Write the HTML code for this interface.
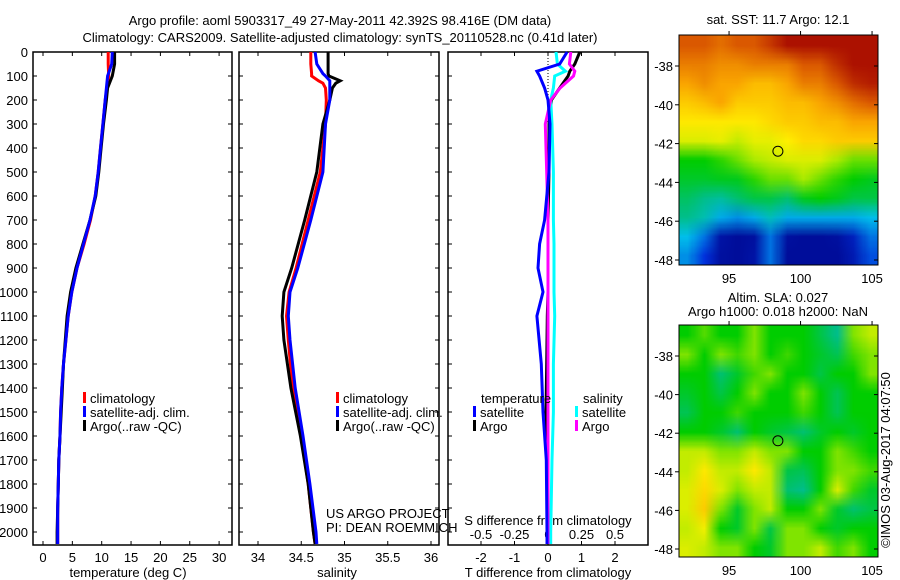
<!DOCTYPE html>
<html><head><meta charset="utf-8"><style>
body{margin:0;background:#fff;width:900px;height:580px;overflow:hidden}
svg{position:absolute;left:0;top:0}
text{font-family:"Liberation Sans",sans-serif;font-size:13px;fill:#000}
canvas{position:absolute}
</style></head><body>
<canvas id="sst" width="199" height="230" style="left:679px;top:35px"></canvas>
<canvas id="sla" width="199" height="232" style="left:679px;top:325px"></canvas>
<svg id="fig" width="900" height="580"></svg>
<script>
const depths=[0,50,100,150,200,300,400,500,600,700,800,900,1000,1100,1200,1300,1400,1500,1600,1700,1800,1900,2000,2050];
const tempArgo=[12.2,12.2,11.8,11.0,10.8,10.3,9.9,9.5,9.0,8.0,6.8,5.6,4.7,4.1,3.8,3.5,3.3,3.1,2.9,2.7,2.6,2.5,2.4,2.4];
const tempClim=[11.1,11.1,11.2,10.9,10.6,10.2,9.8,9.4,8.9,8.1,7.0,5.8,4.9,4.3,3.9,3.5,3.2,3.0,2.9,2.7,2.6,2.5,2.5,2.5];
const tempSat=[11.8,11.7,11.0,10.8,10.6,10.2,9.8,9.4,8.9,8.0,6.9,5.8,4.9,4.3,3.9,3.5,3.2,3.0,2.9,2.7,2.6,2.5,2.5,2.5];
const salDepths=[0,50,90,100,120,130,150,200,300,500,700,900,1000,1100,1200,1400,1600,1800,2000,2050];
const salArgo=[34.81,34.81,34.81,34.82,34.95,34.9,34.86,34.83,34.75,34.68,34.54,34.39,34.30,34.28,34.30,34.38,34.49,34.58,34.64,34.66];
const salClim=[34.61,34.61,34.62,34.62,34.7,34.75,34.78,34.79,34.78,34.72,34.58,34.44,34.36,34.33,34.35,34.40,34.50,34.58,34.64,34.66];
const salSat=[34.66,34.68,34.75,34.78,34.83,34.83,34.83,34.83,34.78,34.75,34.61,34.46,34.37,34.35,34.37,34.43,34.52,34.60,34.67,34.68];
const diffDepths=[0,50,80,100,150,200,300,500,700,800,900,1000,1100,1300,1500,1700,2000,2050];
const dTsat=[0.57,0.35,-0.33,-0.25,-0.1,0,0.06,0.03,-0.1,-0.25,-0.3,-0.15,-0.33,-0.2,-0.15,-0.05,-0.03,-0.03];
const dTargo=[0.95,0.8,0.65,0.6,0.35,0.1,0.03,0.03,0.0,0,0,0,-0.02,-0.04,-0.06,-0.02,0,0];
const dSsat=[0.06,0.07,0.13,0.05,0.04,0.02,0.03,0.04,0.04,0.045,0.045,0.045,0.05,0.04,0.04,0.03,0.02,0.02];
const dSargo=[0.17,0.16,0.2,0.19,0.09,0.02,-0.02,-0.01,0,0,0,0,0,0,0,0,0,0];
const sstGrid=[
[0.85,0.85,0.82,0.85,0.85,0.9,0.97,0.97,0.97,0.97,0.97,0.97],
[0.8,0.8,0.78,0.78,0.8,0.8,0.8,0.85,0.85,0.92,0.97,0.97],
[0.75,0.78,0.75,0.75,0.72,0.72,0.75,0.8,0.8,0.85,0.92,0.95],
[0.7,0.72,0.75,0.7,0.7,0.7,0.72,0.72,0.75,0.78,0.82,0.85],
[0.66,0.66,0.66,0.66,0.66,0.68,0.7,0.7,0.72,0.72,0.75,0.75],
[0.62,0.62,0.63,0.6,0.63,0.63,0.65,0.68,0.68,0.7,0.7,0.7],
[0.5,0.5,0.52,0.55,0.58,0.6,0.62,0.62,0.62,0.58,0.55,0.55],
[0.47,0.47,0.48,0.48,0.52,0.55,0.55,0.58,0.55,0.52,0.5,0.48],
[0.43,0.4,0.38,0.42,0.45,0.45,0.42,0.48,0.5,0.48,0.45,0.45],
[0.4,0.36,0.28,0.25,0.28,0.35,0.28,0.28,0.28,0.28,0.28,0.3],
[0.3,0.22,0.06,0.04,0.05,0.22,0.05,0.04,0.04,0.05,0.1,0.22],
[0.25,0.15,0.05,0.04,0.06,0.22,0.04,0.04,0.04,0.04,0.08,0.18]];
const slaGrid=[
[0.5,0.54,0.5,0.5,0.56,0.5,0.5,0.5,0.45,0.4,0.56,0.6],
[0.56,0.5,0.56,0.53,0.56,0.5,0.53,0.5,0.47,0.44,0.53,0.56],
[0.5,0.5,0.42,0.47,0.53,0.56,0.5,0.5,0.45,0.5,0.5,0.56],
[0.47,0.5,0.45,0.5,0.56,0.5,0.5,0.56,0.5,0.44,0.5,0.5],
[0.44,0.5,0.5,0.53,0.5,0.5,0.5,0.53,0.5,0.44,0.5,0.5],
[0.5,0.5,0.47,0.42,0.5,0.47,0.45,0.42,0.47,0.5,0.47,0.5],
[0.6,0.6,0.56,0.56,0.6,0.56,0.56,0.5,0.5,0.56,0.53,0.5],
[0.6,0.66,0.6,0.6,0.66,0.6,0.45,0.44,0.5,0.56,0.56,0.53],
[0.62,0.68,0.62,0.56,0.6,0.6,0.42,0.4,0.5,0.62,0.53,0.47],
[0.62,0.7,0.56,0.47,0.56,0.6,0.5,0.5,0.56,0.47,0.42,0.45],
[0.6,0.64,0.5,0.47,0.56,0.45,0.56,0.56,0.5,0.47,0.5,0.5],
[0.62,0.6,0.56,0.56,0.5,0.47,0.56,0.56,0.6,0.53,0.56,0.5]];
const depthTicks=[0,100,200,300,400,500,600,700,800,900,1000,1100,1200,1300,1400,1500,1600,1700,1800,1900,2000];
const tempTicks=[0,5,10,15,20,25,30];
const salTicks=[34,34.5,35,35.5,36];
const dTTicks=[-2,-1,0,1,2];
const dSTicks=[-0.5,-0.25,0,0.25,0.5];
const latTicks=[-38,-40,-42,-44,-46,-48];
const lonTicks=[95,100,105];

const NS='http://www.w3.org/2000/svg';
const svg=document.getElementById('fig');
function mk(tag,at,name,txt){const e=document.createElementNS(NS,tag);for(const k in at)e.setAttribute(k,at[k]);


if(txt!==undefined)e.textContent=txt;svg.appendChild(e);return e;}
const yD=d=>52+d*0.24;
const xT=t=>43+t*5.87;
const xS=s=>258+(s-34)*86.5;
const xdT=t=>548+t*33.5;
const xdS=s=>548+s*134;

function box(x0,x1,name){mk('rect',{x:x0,y:52,width:x1-x0,height:493,fill:'none',stroke:'#000','stroke-width':1.5},name);}
box(33,232,'temperature-axes');box(239,439,'salinity-axes');box(448,648,'difference-axes');
depthTicks.forEach(d=>{
  mk('text',{x:28,y:yD(d)+5,'text-anchor':'end'},'depth-tick-label',d);
  [[33,1],[232,-1],[239,1],[439,-1],[448,1]].forEach(([x,s])=>mk('line',{x1:x,x2:x+4*s,y1:yD(d),y2:yD(d),stroke:'#000'},'depth-tick'));
});
function xticks(vals,fx,name,top,lab,ly){vals.forEach(v=>{
  mk('line',{x1:fx(v),x2:fx(v),y1:545,y2:541,stroke:'#000'},name+'-tick');
  if(top)mk('line',{x1:fx(v),x2:fx(v),y1:52,y2:56,stroke:'#000'},name+'-tick-top');
  if(lab)mk('text',{x:fx(v),y:ly,'text-anchor':'middle'},name+'-tick-label',v);});}
xticks(tempTicks,xT,'temperature',true,true,562);
xticks(salTicks,xS,'salinity',true,true,562);
xticks(dTTicks,xdT,'t-diff',false,true,562);
dSTicks.forEach(v=>{mk('line',{x1:xdS(v),x2:xdS(v),y1:52,y2:56,stroke:'#000'},'s-diff-tick');
 mk('text',{x:xdS(v),y:539,'text-anchor':'middle'},'s-diff-tick-label',v);});
mk('text',{x:128,y:577,'text-anchor':'middle'},'temperature-axis-title','temperature (deg C)');
mk('text',{x:337,y:577,'text-anchor':'middle'},'salinity-axis-title','salinity');
mk('text',{x:548,y:577,'text-anchor':'middle'},'t-diff-axis-title','T difference from climatology');
mk('text',{x:548,y:525,'text-anchor':'middle'},'s-diff-axis-title','S difference from climatology');
mk('text',{x:340,y:25,'text-anchor':'middle','font-size':14},'title-line-1','Argo profile: aoml 5903317_49 27-May-2011 42.392S 98.416E (DM data)');
mk('text',{x:340,y:42,'text-anchor':'middle','font-size':14},'title-line-2','Climatology: CARS2009. Satellite-adjusted climatology: synTS_20110528.nc (0.41d later)');
mk('line',{x1:548,x2:548,y1:52,y2:200,stroke:'#000','stroke-dasharray':'1,2'},'zero-line');

function line(ds,vs,fx,col,name){const p=ds.map((d,i)=>fx(vs[i]).toFixed(1)+','+yD(d).toFixed(1)).join(' ');
 mk('polyline',{points:p,fill:'none',stroke:col,'stroke-width':3},name);}
line(depths,tempClim,xT,'#f00','temp-climatology-line');
line(depths,tempArgo,xT,'#000','temp-argo-line');
line(depths,tempSat,xT,'#00f','temp-satellite-line');
line(salDepths,salClim,xS,'#f00','sal-climatology-line');
line(salDepths,salArgo,xS,'#000','sal-argo-line');
line(salDepths,salSat,xS,'#00f','sal-satellite-line');
line(diffDepths,dTargo,xdT,'#000','dt-argo-line');
line(diffDepths,dSsat,xdS,'#0ff','ds-satellite-line');
line(diffDepths,dSargo,xdS,'#f0f','ds-argo-line');
line(diffDepths,dTsat,xdT,'#00f','dt-satellite-line');

function leg(x,y,col,txt,name){mk('rect',{x:x,y:y-11,width:3,height:11,fill:col},name+'-swatch');mk('text',{x:x+7,y:y},name,txt);}
leg(83,403,'#f00','climatology','legend-climatology');
leg(83,417,'#00f','satellite-adj. clim.','legend-satellite');
leg(83,431,'#000','Argo(..raw -QC)','legend-argo');
leg(336,403,'#f00','climatology','legend2-climatology');
leg(336,417,'#00f','satellite-adj. clim.','legend2-satellite');
leg(336,431,'#000','Argo(..raw -QC)','legend2-argo');
mk('text',{x:481,y:403},'legend-temperature-heading','temperature');
mk('text',{x:583,y:403},'legend-salinity-heading','salinity');
leg(473,417,'#00f','satellite','legend-t-satellite');
leg(473,431,'#000','Argo','legend-t-argo');
leg(575,417,'#0ff','satellite','legend-s-satellite');
leg(575,431,'#f0f','Argo','legend-s-argo');
mk('text',{x:326,y:518},'credit-project','US ARGO PROJECT');
mk('text',{x:326,y:532},'credit-pi','PI: DEAN ROEMMICH');

const lonX=l=>679+(l-91.5)*14.3;
function mapAxes(top,bottom,lat0y,lat48y,name){
  const yL=la=>lat0y+(-38-la)*(lat48y-lat0y)/10;
  mk('rect',{x:679,y:top,width:199,height:bottom-top,fill:'none',stroke:'#000'},name+'-frame');
  latTicks.forEach(la=>{mk('line',{x1:679,x2:675,y1:yL(la),y2:yL(la),stroke:'#000'},name+'-lat-tick');
    mk('line',{x1:878,x2:874,y1:yL(la),y2:yL(la),stroke:'#000'},name+'-lat-tick-r');
    mk('text',{x:673,y:yL(la)+5,'text-anchor':'end'},name+'-lat-label',la);});
  lonTicks.forEach(lo=>{mk('line',{x1:lonX(lo),x2:lonX(lo),y1:top,y2:top-4,stroke:'#000'},name+'-lon-tick');
    mk('text',{x:lonX(lo),y:bottom+18,'text-anchor':'middle'},name+'-lon-label',lo);});
  mk('circle',{cx:lonX(98.416),cy:yL(-42.392),r:5,fill:'none',stroke:'#000'},name+'-argo-marker');
}
mapAxes(35,265,66,260,'sst-map');
mapAxes(325,557,356,549,'sla-map');
mk('text',{x:778,y:24,'text-anchor':'middle','font-size':12},'sst-map-title','sat. SST: 11.7 Argo: 12.1');
mk('text',{x:778,y:302,'text-anchor':'middle','font-size':12},'sla-map-title-1','Altim. SLA: 0.027');
mk('text',{x:778,y:316,'text-anchor':'middle','font-size':12},'sla-map-title-2','Argo h1000: 0.018 h2000: NaN');
mk('text',{x:0,y:0,'text-anchor':'middle','font-size':12,transform:'translate(890,460) rotate(-90)'},'timestamp','©IMOS 03-Aug-2017 04:07:50');

const cmapStops=[[0,[0,0,130]],[0.15,[0,50,220]],[0.3,[0,190,235]],[0.4,[0,190,140]],[0.5,[0,205,0]],[0.58,[170,235,0]],[0.65,[255,240,0]],[0.75,[250,165,0]],[0.86,[215,80,0]],[1,[160,0,0]]];
function cmap(v){v=Math.max(0,Math.min(1,v));for(let i=1;i<cmapStops.length;i++){const [a,ca]=cmapStops[i-1],[b,cb]=cmapStops[i];
 if(v<=b){const t=(v-a)/(b-a);return ca.map((c,k)=>Math.round(c+(cb[k]-c)*t));}}return cmapStops[cmapStops.length-1][1];}
function drawMap(id,grid){const cv=document.getElementById(id),ctx=cv.getContext('2d');
 const n=grid.length,m=grid[0].length,sm=document.createElement('canvas');sm.width=m;sm.height=n;
 const sc=sm.getContext('2d'),img=sc.createImageData(m,n);
 grid.forEach((row,r)=>row.forEach((v,c)=>{const k=(r*m+c)*4,[R,G,B]=cmap(v);img.data[k]=R;img.data[k+1]=G;img.data[k+2]=B;img.data[k+3]=255;}));
 sc.putImageData(img,0,0);ctx.imageSmoothingEnabled=true;ctx.drawImage(sm,0,0,cv.width,cv.height);}
drawMap('sst',sstGrid);drawMap('sla',slaGrid);
</script></body></html>
